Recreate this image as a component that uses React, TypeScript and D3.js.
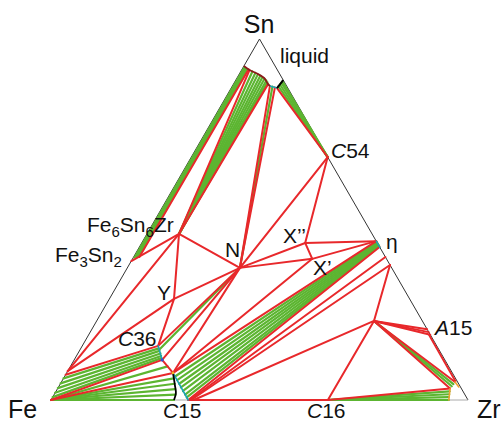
import React from 'react';
import * as d3 from 'd3';

// compositions are [at.% Sn, at.% Zr], Fe is the balance
type Pt = [number, number];
type Seg = [Pt, Pt];

const FE: Pt = [0, 0];
const SN: Pt = [100, 0];
const ZR: Pt = [0, 100];

const FE3SN2: Pt = [38.5, 0];
const FE6SN6ZR: Pt = [46, 7.7];
const N_PT: Pt = [36.6, 27];
const Y_PT: Pt = [28, 15.5];
const C36: Pt = [15, 18.2];
const C36_LO: Pt = [11.1, 21.1];
const C15_TOP: Pt = [7.5, 25.5];
const C15_BASE: Pt = [0, 32.9];
const X2: Pt = [43.5, 39.2];
const X1: Pt = [39.1, 43.1];
const ETA: Pt = [44, 56];
const ETA_LO: Pt = [42.4, 57.6];
const ETA2: Pt = [37.4, 62.6];
const C54: Pt = [67.3, 32.7];
const P_PT: Pt = [21.9, 66.5];
const C16: Pt = [0, 66.4];
const ZR_SS1: Pt = [3.2, 94.1];
const ZR_SS2: Pt = [5.0, 94.4];
const FE_SS: Pt = [8, 0];

// liquid boundary near Sn
const liquidCurve: Pt[] = [[92.5, 0], [91.4, 1.9], [90.5, 4.0], [89.2, 6.5], [87.5, 8.3], [87.0, 9.0]];
const liquidTeal: Pt[] = [[87.0, 9.0], [86.4, 11.0]];
const liquidBlack: Pt[] = [[86.4, 11.0], [88.6, 11.4]];
// C15 boundary on the Fe side
const c15Curve: Pt[] = [C15_TOP, [4.2, 27.6], [1.9, 29.0], [0, 29.5]];

const feSnBand: Pt[] = [[92.4, 0], [91.6, 1.6], [39.6, 1.4], [39.2, 0]];

const redLines: Seg[] = [
  [[91.6, 1.6], [39.6, 1.4]],
  [[91.4, 1.9], FE6SN6ZR],
  [[87.5, 8.3], FE6SN6ZR],
  [[87.0, 9.0], N_PT],
  [[86.6, 10.4], N_PT],
  [[86.4, 11.0], C54],
  [FE3SN2, FE6SN6ZR],
  [FE6SN6ZR, N_PT], [FE6SN6ZR, Y_PT], [FE6SN6ZR, FE_SS],
  [Y_PT, N_PT], [Y_PT, C36], [Y_PT, FE_SS],
  [C54, N_PT], [C54, X2],
  [X2, ETA], [X2, X1], [X2, N_PT],
  [X1, N_PT], [X1, ETA], [X1, C15_TOP],
  [N_PT, C36], [N_PT, C36_LO], [N_PT, C15_TOP],
  [C36, [7, 0]], [C36_LO, FE], [C15_TOP, FE], [C36_LO, C15_TOP],
  [ETA, C15_TOP], [ETA_LO, C15_BASE],
  [[39.6, 60.4], [0, 33.3]], [ETA2, [0, 33.6]],
  [P_PT, ETA2], [P_PT, [0, 34.2]], [P_PT, C16],
  [P_PT, [19.6, 80.4]], [P_PT, [18.8, 81.2]], [P_PT, [18.1, 81.9]],
  [P_PT, ZR_SS1], [P_PT, ZR_SS2], [[18.1, 81.6], [5.2, 94.4]],
  [C16, ZR_SS1],
  [C15_BASE, C16],
];

const greenLines: Seg[] = [
  // liquid + Fe6Sn6Zr
  [[91.0, 2.8], FE6SN6ZR], [[90.6, 3.7], FE6SN6ZR], [[90.2, 4.5], FE6SN6ZR],
  [[89.8, 5.3], FE6SN6ZR], [[89.4, 6.0], FE6SN6ZR], [[89.0, 6.7], FE6SN6ZR],
  [[88.5, 7.4], FE6SN6ZR], [[88.0, 7.9], FE6SN6ZR],
  // liquid + N
  [[86.8, 9.7], N_PT],
  // liquid + C54
  [[86.9, 11.1], C54], [[87.4, 11.2], C54], [[87.9, 11.3], C54], [[88.3, 11.35], C54],
  // Fe + C36
  [[6.0, 0], [14.3, 18.7]], [[4.6, 0], [13.6, 19.2]], [[3.3, 0], [12.9, 19.8]],
  [[2, 0], [12.2, 20.3]], [[0.8, 0], [11.6, 20.7]],
  [FE, [9.3, 23.3]],
  // Fe + C15
  [FE, [6, 26.45]], [FE, [4.5, 27.4]], [FE, [3, 28.3]], [FE, [1.5, 29.1]], [FE, [0, 29.5]],
  // C36 + N
  [[14, 19], N_PT],
  // C15 + eta
  [[6.5, 26.5], [43.8, 56.2]], [[5.5, 27.5], [43.6, 56.4]], [[4.5, 28.5], [43.4, 56.6]],
  [[3.5, 29.4], [43.2, 56.8]], [[2.5, 30.4], [43.0, 57.0]], [[1.5, 31.4], [42.8, 57.2]],
  [[0.7, 32.2], [42.6, 57.4]],
  // P + Zr
  [P_PT, [3.8, 94.2]], [P_PT, [4.4, 94.3]],
  // C16 + Zr
  [C16, [2.4, 94.4]], [C16, [1.6, 94.7]], [C16, [0.8, 95.0]], [C16, [0, 95.4]],
];

const tealLines: Seg[] = [[C36, C36_LO], [C15_TOP, C15_BASE], [ETA, [42.2, 57.8]]];
const orangeLines: Seg[] = [[ZR_SS1, [0, 95.4]], [ZR_SS2, [3.6, 96.0]]];

const RED = '#e8282b';
const GREEN = '#5cb531';
const FONT = '"Liberation Sans", Arial, sans-serif';

const xS = d3.scaleLinear().domain([0, 100]).range([51, 468]);
const yS = d3.scaleLinear().domain([0, 100]).range([400, 39]);
const px = (p: Pt) => xS(p[1] + p[0] / 2);
const py = (p: Pt) => yS(p[0]);
const path = d3.line<Pt>().x(px).y(py);
const smooth = d3.line<Pt>().x(px).y(py).curve(d3.curveCatmullRom);

const Segs = ({ segs, color, w }: { segs: Seg[]; color: string; w: number }) => (
  <g stroke={color} strokeWidth={w} fill="none" strokeLinecap="round">
    {segs.map((s, i) => <path key={i} d={path(s) || ''} />)}
  </g>
);

export default function App() {
  const lab = { fontFamily: FONT, fontSize: 21, fill: '#111' } as const;
  const big = { fontFamily: FONT, fontSize: 25, fill: '#111' } as const;
  const sub = { fontSize: 15 };
  return (
    <svg width={503} height={423} style={{ position: 'absolute', left: 0, top: 0, background: '#fff' }}>
      {/* triangle edges */}
      <path d={path([FE, SN]) || ''} stroke="#333" strokeWidth={1} />
      <path d={path([SN, ZR]) || ''} stroke="#333" strokeWidth={1} />
      <path d={path([FE, ZR]) || ''} stroke="#aaa" strokeWidth={1} />

      <path d={(path(feSnBand) || '') + 'Z'} fill={GREEN} stroke="none" />
      <Segs segs={greenLines} color={GREEN} w={2.2} />
      <Segs segs={redLines} color={RED} w={2} />
      <Segs segs={tealLines} color="#1ba3b5" w={1.6} />
      <Segs segs={orangeLines} color="#f0a030" w={1.6} />
      <path d={smooth(liquidCurve) || ''} stroke="#8b1a1a" strokeWidth={1.8} fill="none" />
      <path d={path(liquidTeal) || ''} stroke="#1ba3b5" strokeWidth={1.6} fill="none" />
      <path d={path(liquidBlack) || ''} stroke="#000" strokeWidth={2} fill="none" />
      <path d={smooth(c15Curve) || ''} stroke="#000" strokeWidth={1.8} fill="none" />
      <circle cx={px(C36_LO)} cy={py(C36_LO)} r={1.6} fill="#3050d0" />
      <circle cx={px(C15_TOP)} cy={py(C15_TOP)} r={1.4} fill="#f0b020" />

      {/* labels */}
      <text x={259} y={33} textAnchor="middle" style={big}>Sn</text>
      <text x={8} y={418} style={big}>Fe</text>
      <text x={477} y={418} style={big}>Zr</text>
      <text x={280} y={63} style={lab}>liquid</text>
      <text x={331} y={158} style={lab}><tspan fontStyle="italic">C</tspan>54</text>
      <text x={87} y={232} style={lab}>Fe<tspan dy={5} style={sub}>6</tspan><tspan dy={-5}>Sn</tspan><tspan dy={5} style={sub}>6</tspan><tspan dy={-5}>Zr</tspan></text>
      <text x={55} y={262} style={lab}>Fe<tspan dy={5} style={sub}>3</tspan><tspan dy={-5}>Sn</tspan><tspan dy={5} style={sub}>2</tspan></text>
      <text x={225} y={257} style={lab}>N</text>
      <text x={283} y={243} style={lab}>X’’</text>
      <text x={313} y={275} style={lab}>X’</text>
      <text x={386} y={249} style={lab}>η</text>
      <text x={435} y={335} style={lab}><tspan fontStyle="italic">A</tspan>15</text>
      <text x={118} y={346} style={lab}><tspan fontStyle="italic">C</tspan>36</text>
      <text x={157} y={300} style={lab}>Y</text>
      <text x={163} y={418} style={lab}><tspan fontStyle="italic">C</tspan>15</text>
      <text x={307} y={418} style={lab}><tspan fontStyle="italic">C</tspan>16</text>
    </svg>
  );
}
